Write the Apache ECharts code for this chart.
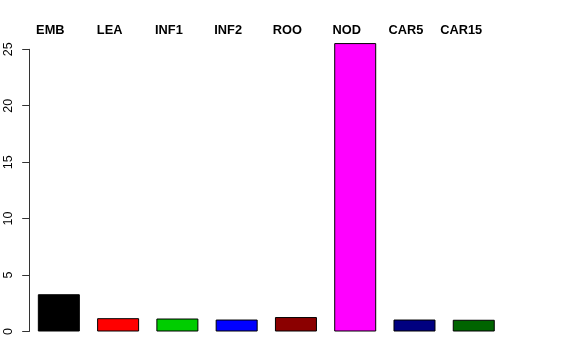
<!DOCTYPE html>
<html>
<head>
<meta charset="utf-8">
<script src="https://cdn.jsdelivr.net/npm/echarts@6/dist/echarts.min.js"></script>
<style>html,body{margin:0;padding:0;background:#fff;}#c{width:576px;height:360px;}</style>
</head>
<body>
<div id="c"></div>
<script>
const categories = ['EMB', 'LEA', 'INF1', 'INF2', 'ROO', 'NOD', 'CAR5', 'CAR15'];
const values = [3.3, 1.18, 1.15, 1.06, 1.28, 25.55, 1.06, 1.04];
const colors = ['#000000', '#FF0000', '#00CD00', '#0000FF', '#8B0000', '#FF00FF', '#000080', '#006400'];
const yTicks = [0, 5, 10, 15, 20, 25];

const chart = echarts.init(document.getElementById('c'), null, {renderer: 'canvas'});
chart.setOption({
  animation: false,
  backgroundColor: '#ffffff',
  grid: {left: 29.2, right: 72.6, top: 49.3, bottom: 28.5, containLabel: false},
  xAxis: {
    type: 'category',
    position: 'top',
    data: categories.map((c, i) => i === categories.length - 1
      ? {value: c, textStyle: {padding: [0, 25, 0, 0]}}
      : c),
    axisLine: {show: false},
    axisTick: {show: false},
    axisLabel: {
      interval: 0,
      margin: 12,
      fontFamily: 'Liberation Sans, Arial, sans-serif',
      fontWeight: 'bold',
      fontSize: 12.8,
      color: '#000',
      padding: [0, 17, 0, 0]
    }
  },
  yAxis: {
    type: 'value',
    min: yTicks[0],
    max: yTicks[yTicks.length - 1],
    interval: 5,
    splitLine: {show: false},
    axisLine: {show: true, lineStyle: {color: '#333', width: 1}},
    axisTick: {show: true, length: 7, lineStyle: {color: '#333'}},
    axisLabel: {
      rotate: 90,
      margin: 14,
      fontFamily: 'Liberation Sans, Arial, sans-serif',
      fontSize: 12.5,
      color: '#000'
    }
  },
  series: [{
    type: 'bar',
    clip: false,
    barWidth: 42,
    data: values.map((v, i) => ({value: v, itemStyle: {color: colors[i]}})),
    itemStyle: {borderColor: '#000', borderWidth: 1}
  }]
});
</script>
</body>
</html>
